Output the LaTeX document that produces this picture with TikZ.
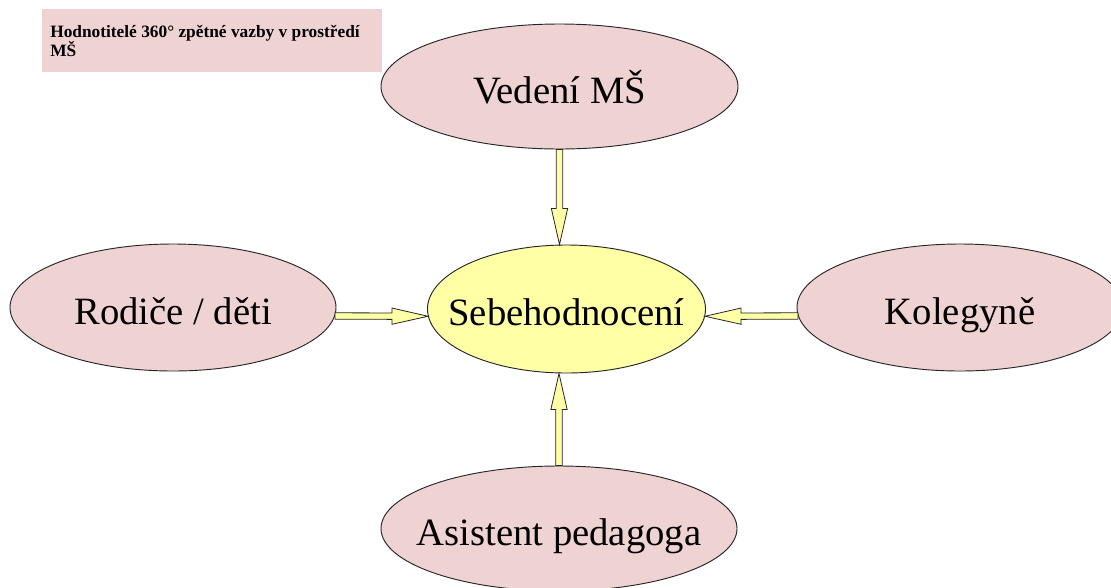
\documentclass[tikz,border=0pt]{standalone}
\usepackage{fontspec}
\setmainfont{Liberation Serif}
\usetikzlibrary{shapes.geometric,calc}
\definecolor{rosepink}{RGB}{239,211,211}
\definecolor{paleyellow}{RGB}{255,255,166}
\newcommand\blockarrow[2]{%
  \coordinate (headbase) at ($(#2)!27pt!(#1)$);
  \filldraw[blockarrow] ($(#1)!2.4pt!90:(#2)$) -- ($(headbase)!2.4pt!90:(#2)$)
    -- ($(headbase)!6.1pt!90:(#2)$) -- (#2) -- ($(headbase)!6.1pt!-90:(#2)$)
    -- ($(headbase)!2.4pt!-90:(#2)$) -- ($(#1)!2.4pt!-90:(#2)$) -- cycle;}
\begin{document}
\begin{tikzpicture}[x=0.75pt,y=-0.75pt]
\tikzstyle{rater} = [ellipse, draw=black!85, line width=0.7pt, fill=rosepink,
  inner xsep=-20pt, inner ysep=0pt, text height=24.8pt, text depth=0pt,
  font=\fontsize{29}{34}\selectfont]
\tikzstyle{self} = [rater, fill=paleyellow]
\tikzstyle{blockarrow} = [draw=black!85, line width=0.6pt, fill=paleyellow, line join=miter]
\useasboundingbox (0,0) rectangle (1111,587);

\node (title) [anchor=north west, fill=rosepink, text width=243pt, minimum height=47.25pt,
  inner xsep=6pt, align=flush left, font=\fontsize{13}{14.3}\selectfont\bfseries] at (42,9)
  {\mbox{Hodnotitelé 360° zpětné vazby v prostředí}\\MŠ};

\node (vedeni) [rater, minimum width=267.75pt, minimum height=93.75pt] at (559.5,86.5) {Vedení MŠ};
\node (sebe) [self, minimum width=208.5pt, minimum height=96pt] at (566.5,309) {Sebehodnocení};
\node (rodice) [rater, minimum width=244.5pt, minimum height=95.25pt] at (173,307.5) {Rodiče / děti};
\node (kolegyne) [rater, minimum width=244.5pt, minimum height=95.25pt] at (960,307.5) {Kolegyně};
\node (asistent) [rater, minimum width=267pt, minimum height=93.75pt] at (559,528.5) {Asistent pedagoga};

\coordinate (toptip) at (vedeni.south |- sebe.north);
\coordinate (bottomtip) at (asistent.north |- sebe.south);
\blockarrow{vedeni.south}{toptip}
\blockarrow{asistent.north}{bottomtip}
\blockarrow{rodice.-3}{sebe.183}
\blockarrow{kolegyne.183}{sebe.-3}
\end{tikzpicture}
\end{document}
